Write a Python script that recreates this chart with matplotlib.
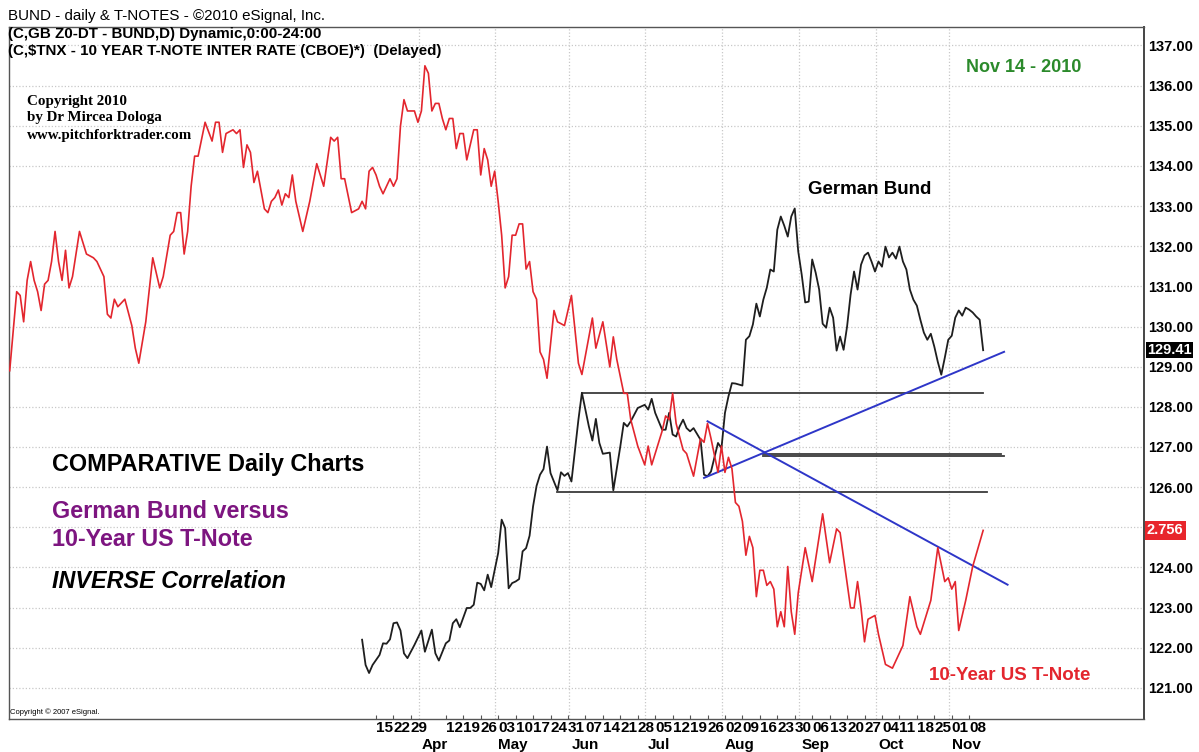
import numpy as np
import matplotlib
matplotlib.use("Agg")
import matplotlib.pyplot as plt
import matplotlib.transforms as mtrans

# ---- data ----
tnote_dates = [
    "2009-10-19", "2009-10-21", "2009-10-22", "2009-10-23", "2009-10-26", "2009-10-27", "2009-10-28",
    "2009-10-29", "2009-10-30", "2009-11-02", "2009-11-03", "2009-11-04", "2009-11-05", "2009-11-06",
    "2009-11-09", "2009-11-10", "2009-11-11", "2009-11-12", "2009-11-16", "2009-11-17", "2009-11-18",
    "2009-11-20", "2009-11-23", "2009-11-24", "2009-11-25", "2009-11-26", "2009-11-27", "2009-11-30",
    "2009-12-01", "2009-12-03", "2009-12-07", "2009-12-08", "2009-12-09", "2009-12-11", "2009-12-15",
    "2009-12-17", "2009-12-18", "2009-12-22", "2009-12-23", "2009-12-24", "2009-12-25", "2009-12-28",
    "2009-12-29", "2009-12-30", "2009-12-31", "2010-01-01", "2010-01-05", "2010-01-07", "2010-01-08",
    "2010-01-11", "2010-01-12", "2010-01-13", "2010-01-15", "2010-01-18", "2010-01-19", "2010-01-20",
    "2010-01-21", "2010-01-22", "2010-01-25", "2010-01-26", "2010-01-27", "2010-01-28", "2010-01-29",
    "2010-02-01", "2010-02-02", "2010-02-03", "2010-02-04", "2010-02-05", "2010-02-08", "2010-02-09",
    "2010-02-10", "2010-02-12", "2010-02-16", "2010-02-18", "2010-02-22", "2010-02-24", "2010-02-25",
    "2010-02-26", "2010-03-01", "2010-03-02", "2010-03-04", "2010-03-08", "2010-03-09", "2010-03-10",
    "2010-03-11", "2010-03-12", "2010-03-15", "2010-03-16", "2010-03-17", "2010-03-18", "2010-03-19",
    "2010-03-22", "2010-03-23", "2010-03-24", "2010-03-25", "2010-03-26", "2010-03-29", "2010-03-30",
    "2010-03-31", "2010-04-01", "2010-04-02", "2010-04-05", "2010-04-06", "2010-04-07", "2010-04-08",
    "2010-04-09", "2010-04-12", "2010-04-13", "2010-04-14", "2010-04-15", "2010-04-16", "2010-04-19",
    "2010-04-20", "2010-04-21", "2010-04-22", "2010-04-23", "2010-04-26", "2010-04-27", "2010-04-28",
    "2010-04-29", "2010-04-30", "2010-05-03", "2010-05-04", "2010-05-05", "2010-05-06", "2010-05-07",
    "2010-05-10", "2010-05-11", "2010-05-12", "2010-05-13", "2010-05-14", "2010-05-17", "2010-05-18",
    "2010-05-19", "2010-05-20", "2010-05-21", "2010-05-25", "2010-05-26", "2010-05-28", "2010-06-01",
    "2010-06-03", "2010-06-04", "2010-06-09", "2010-06-10", "2010-06-14", "2010-06-16", "2010-06-17",
    "2010-06-18", "2010-06-22", "2010-06-23", "2010-06-24", "2010-06-28", "2010-06-30", "2010-07-01",
    "2010-07-02", "2010-07-07", "2010-07-08", "2010-07-09", "2010-07-12", "2010-07-13", "2010-07-15",
    "2010-07-16", "2010-07-20", "2010-07-21", "2010-07-22", "2010-07-23", "2010-07-26", "2010-07-27",
    "2010-07-29", "2010-07-30", "2010-08-02", "2010-08-03", "2010-08-04", "2010-08-05", "2010-08-06",
    "2010-08-09", "2010-08-10", "2010-08-11", "2010-08-12", "2010-08-13", "2010-08-16", "2010-08-17",
    "2010-08-18", "2010-08-19", "2010-08-20", "2010-08-23", "2010-08-24", "2010-08-25", "2010-08-26",
    "2010-08-27", "2010-08-30", "2010-08-31", "2010-09-02", "2010-09-06", "2010-09-09", "2010-09-13",
    "2010-09-15", "2010-09-16", "2010-09-21", "2010-09-22", "2010-09-23", "2010-09-24", "2010-09-27",
    "2010-09-28", "2010-09-30", "2010-10-01", "2010-10-05", "2010-10-07", "2010-10-12", "2010-10-14",
    "2010-10-18", "2010-10-19", "2010-10-21", "2010-10-22", "2010-10-26", "2010-10-28", "2010-10-29",
    "2010-11-01", "2010-11-02", "2010-11-03", "2010-11-05", "2010-11-09", "2010-11-12",
]
tnote_yield = [
    3.18, 3.39, 3.38, 3.31, 3.42, 3.47, 3.42, 3.39, 3.34, 3.41, 3.42, 3.47, 3.55, 3.47,
    3.42, 3.50, 3.40, 3.43, 3.55, 3.52, 3.49, 3.48, 3.47, 3.45, 3.43, 3.33, 3.32, 3.37,
    3.35, 3.37, 3.30, 3.24, 3.20, 3.31, 3.48, 3.40, 3.43, 3.54, 3.55, 3.60, 3.60, 3.49,
    3.55, 3.67, 3.75, 3.75, 3.84, 3.79, 3.84, 3.84, 3.76, 3.81, 3.82, 3.81, 3.82, 3.72,
    3.78, 3.76, 3.68, 3.71, 3.66, 3.61, 3.60, 3.63, 3.64, 3.66, 3.62, 3.65, 3.64, 3.70,
    3.63, 3.55, 3.63, 3.73, 3.67, 3.80, 3.79, 3.80, 3.69, 3.69, 3.60, 3.61, 3.63, 3.61,
    3.71, 3.72, 3.70, 3.67, 3.65, 3.67, 3.69, 3.67, 3.69, 3.83, 3.90, 3.87, 3.87, 3.87,
    3.84, 3.87, 3.99, 3.97, 3.87, 3.89, 3.89, 3.85, 3.82, 3.85, 3.85, 3.77, 3.81, 3.81,
    3.74, 3.78, 3.82, 3.82, 3.70, 3.77, 3.74, 3.67, 3.71, 3.63, 3.54, 3.40, 3.43, 3.54,
    3.54, 3.57, 3.57, 3.45, 3.47, 3.39, 3.37, 3.23, 3.21, 3.16, 3.34, 3.31, 3.30, 3.38,
    3.20, 3.17, 3.32, 3.24, 3.31, 3.19, 3.27, 3.21, 3.12, 3.12, 3.05, 2.98, 2.93, 2.98,
    2.93, 3.02, 3.06, 3.05, 3.12, 3.04, 2.97, 2.96, 2.90, 2.95, 3.00, 2.99, 3.04, 3.00,
    2.91, 2.98, 2.91, 2.95, 2.92, 2.83, 2.82, 2.78, 2.69, 2.74, 2.71, 2.58, 2.65, 2.65,
    2.61, 2.62, 2.60, 2.50, 2.54, 2.50, 2.66, 2.54, 2.48, 2.59, 2.71, 2.62, 2.80, 2.67,
    2.76, 2.75, 2.55, 2.55, 2.62, 2.55, 2.46, 2.52, 2.53, 2.48, 2.40, 2.39, 2.45, 2.58,
    2.50, 2.48, 2.54, 2.57, 2.71, 2.62, 2.63, 2.60, 2.62, 2.49, 2.57, 2.66, 2.756,
]

bund_dates = [
    "2010-03-09", "2010-03-10", "2010-03-11", "2010-03-12", "2010-03-16", "2010-03-17", "2010-03-18",
    "2010-03-19", "2010-03-22", "2010-03-23", "2010-03-24", "2010-03-25", "2010-03-26", "2010-03-30",
    "2010-04-01", "2010-04-02", "2010-04-06", "2010-04-07", "2010-04-08", "2010-04-12", "2010-04-13",
    "2010-04-14", "2010-04-15", "2010-04-16", "2010-04-20", "2010-04-21", "2010-04-22", "2010-04-23",
    "2010-04-26", "2010-04-27", "2010-04-28", "2010-04-29", "2010-05-03", "2010-05-04", "2010-05-05",
    "2010-05-06", "2010-05-07", "2010-05-10", "2010-05-11", "2010-05-12", "2010-05-13", "2010-05-14",
    "2010-05-17", "2010-05-18", "2010-05-19", "2010-05-20", "2010-05-21", "2010-05-24", "2010-05-26",
    "2010-05-27", "2010-05-28", "2010-05-31", "2010-06-01", "2010-06-03", "2010-06-04", "2010-06-08",
    "2010-06-09", "2010-06-10", "2010-06-11", "2010-06-14", "2010-06-16", "2010-06-17", "2010-06-21",
    "2010-06-22", "2010-06-23", "2010-06-24", "2010-06-28", "2010-06-29", "2010-06-30", "2010-07-01",
    "2010-07-02", "2010-07-05", "2010-07-07", "2010-07-08", "2010-07-09", "2010-07-12", "2010-07-13",
    "2010-07-14", "2010-07-15", "2010-07-16", "2010-07-19", "2010-07-20", "2010-07-22", "2010-07-23",
    "2010-07-26", "2010-07-27", "2010-07-29", "2010-07-30", "2010-08-02", "2010-08-03", "2010-08-04",
    "2010-08-05", "2010-08-09", "2010-08-10", "2010-08-11", "2010-08-12", "2010-08-13", "2010-08-16",
    "2010-08-17", "2010-08-18", "2010-08-19", "2010-08-20", "2010-08-23", "2010-08-24", "2010-08-25",
    "2010-08-26", "2010-08-27", "2010-08-30", "2010-08-31", "2010-09-01", "2010-09-02", "2010-09-03",
    "2010-09-06", "2010-09-07", "2010-09-08", "2010-09-09", "2010-09-10", "2010-09-13", "2010-09-14",
    "2010-09-15", "2010-09-16", "2010-09-17", "2010-09-20", "2010-09-21", "2010-09-22", "2010-09-23",
    "2010-09-24", "2010-09-27", "2010-09-28", "2010-09-29", "2010-09-30", "2010-10-01", "2010-10-04",
    "2010-10-05", "2010-10-06", "2010-10-07", "2010-10-08", "2010-10-11", "2010-10-12", "2010-10-13",
    "2010-10-14", "2010-10-15", "2010-10-18", "2010-10-19", "2010-10-20", "2010-10-21", "2010-10-22",
    "2010-10-25", "2010-10-26", "2010-10-27", "2010-10-28", "2010-10-29", "2010-11-01", "2010-11-02",
    "2010-11-03", "2010-11-04", "2010-11-05", "2010-11-08", "2010-11-09", "2010-11-10", "2010-11-11",
    "2010-11-12",
]
bund_price = [
    122.20, 121.57, 121.37, 121.57, 121.82, 122.11, 122.10, 122.21, 122.61, 122.63, 122.43,
    121.86, 121.74, 122.07, 122.43, 121.90, 122.45, 121.86, 121.68, 122.11, 122.18, 122.61,
    122.71, 122.51, 122.99, 122.99, 123.07, 123.62, 123.59, 123.43, 123.82, 123.51, 124.36,
    125.19, 124.98, 123.48, 123.61, 123.65, 123.71, 124.40, 124.48, 124.79, 125.52, 126.03,
    126.31, 126.45, 127.01, 126.35, 125.92, 126.37, 126.28, 126.35, 126.14, 127.68, 128.35,
    127.51, 127.16, 127.70, 127.10, 126.83, 126.86, 125.92, 127.01, 127.60, 127.51, 127.64,
    127.97, 128.01, 128.05, 127.93, 128.20, 127.85, 127.43, 127.43, 127.85, 127.31, 127.26,
    127.51, 127.68, 127.47, 127.39, 127.47, 127.18, 126.31, 126.27, 126.39, 127.10, 126.97,
    127.85, 128.26, 128.59, 128.58, 128.53, 129.67, 129.76, 130.05, 130.57, 130.25, 130.67,
    130.97, 131.42, 131.37, 132.41, 132.74, 132.51, 132.24, 132.74, 132.94, 131.87, 131.29,
    130.60, 130.62, 131.67, 131.34, 130.92, 130.07, 129.97, 130.47, 130.22, 129.40, 129.75,
    129.42, 130.00, 130.79, 131.37, 130.92, 131.54, 131.77, 131.84, 131.62, 131.37, 131.62,
    131.49, 131.99, 131.72, 131.84, 131.69, 131.99, 131.62, 131.42, 130.92, 130.67, 130.52,
    130.17, 129.85, 129.67, 129.82, 129.50, 129.12, 128.80, 129.22, 129.67, 129.77, 130.22,
    130.40, 130.27, 130.47, 130.42, 130.35, 130.25, 130.17, 129.41,
]

# author's horizontal support / resistance lines (price, from, to)
hline_price = [128.35, 126.83, 126.77, 125.89]
hline_from = ["2010-06-04", "2010-08-17", "2010-08-17", "2010-05-26"]
hline_to = ["2010-11-12", "2010-11-19", "2010-11-22", "2010-11-15"]

# blue trend lines (from date, from price, to date, to price)
trend_from = ["2010-07-23", "2010-07-26"]
trend_from_price = [126.23, 127.64]
trend_to = ["2010-11-22", "2010-11-23"]
trend_to_price = [129.37, 123.57]

week_dates = [
    "2010-03-15", "2010-03-22", "2010-03-29", "2010-04-12", "2010-04-19", "2010-04-26",
    "2010-05-03", "2010-05-10", "2010-05-17", "2010-05-24", "2010-05-31", "2010-06-07",
    "2010-06-14", "2010-06-21", "2010-06-28", "2010-07-05", "2010-07-12", "2010-07-19",
    "2010-07-26", "2010-08-02", "2010-08-09", "2010-08-16", "2010-08-23", "2010-08-30",
    "2010-09-06", "2010-09-13", "2010-09-20", "2010-09-27", "2010-10-04", "2010-10-11",
    "2010-10-18", "2010-10-25", "2010-11-01", "2010-11-08",
]
month_dates = ["2010-04-01", "2010-05-03", "2010-06-01", "2010-07-01",
               "2010-08-02", "2010-09-01", "2010-10-01", "2010-11-01"]
month_names = ["Apr", "May", "Jun", "Jul", "Aug", "Sep", "Oct", "Nov"]
price_ticks = list(range(121, 138))

origin = np.datetime64("2010-03-15")


def bar(dates):
    # eSignal spaces bars by trading day
    return np.busday_count(origin, np.array(dates, dtype="datetime64[D]"))


W, H = 1199, 752
plt.rcParams["font.family"] = ["Liberation Sans", "DejaVu Sans"]
fig = plt.figure(figsize=(W / 100, H / 100), dpi=100)
fig.patch.set_facecolor("white")

ax = fig.add_axes([9 / W, 1 - 719 / H, (1144 - 9) / W, (719 - 27) / H])
ax.set_xlim(-105.2, 220.1)
ax.set_ylim(120.225, 137.46)

# grid
for p in price_ticks:
    ax.axhline(p, color="#c8c8c8", lw=0.9, ls=(0, (1, 1.6)), zorder=0)
for m in bar(month_dates):
    ax.axvline(m - 0.8, color="#c8c8c8", lw=0.9, ls=(0, (1, 1.6)), zorder=0)

# series
ax.plot(bar(bund_dates), bund_price, color="#1e1e1e", lw=1.3, zorder=3)

for lv, a, b in zip(hline_price, hline_from, hline_to):
    ax.plot([bar(a), bar(b)], [lv, lv], color="#3a3a3a", lw=1.3, zorder=2)
for a, pa, b, pb in zip(trend_from, trend_from_price, trend_to, trend_to_price):
    ax.plot([bar(a), bar(b)], [pa, pb], color="#2e36c8", lw=1.4, zorder=4)

ax2 = ax.twinx()
ax2.set_ylim(2.255, 4.093)
ax2.plot(bar(tnote_dates), tnote_yield, color="#e3262e", lw=1.2, zorder=3)
ax2.set_yticks([])
for s in ax2.spines.values():
    s.set_visible(False)

# axes styling
for s in ax.spines.values():
    s.set_color("#555555")
    s.set_linewidth(1.0)
ax.spines["right"].set_color("#444444")
ax.spines["right"].set_linewidth(1.4)
ax.yaxis.tick_right()
ax.set_yticks(price_ticks)
# 125.00 sits under the T-Note value tag, so it is left blank
ax.set_yticklabels(["" if p == 125 else "%.2f" % p for p in price_ticks],
                   fontsize=10.5, fontweight="bold")
ax.tick_params(axis="y", length=0, pad=3)
ax.set_xticks(bar(week_dates))
ax.set_xticklabels([])
ax.tick_params(axis="x", direction="in", length=3, color="#555555")

tr = mtrans.blended_transform_factory(ax.transData, ax.transAxes)
for d in week_dates:
    ax.text(bar(d), -9 / 692, d[-2:], transform=tr, ha="left", va="center",
            fontsize=11, fontweight="bold", clip_on=False)
for d, name in zip(month_dates, month_names):
    ax.text(bar(d), -26 / 692, name, transform=tr, ha="left", va="center",
            fontsize=11, fontweight="bold", clip_on=False)

# last value tags on the price scale
ax.annotate("129.41", xy=(1, bund_price[-1]), xycoords=("axes fraction", "data"),
            xytext=(2, 0), textcoords="offset points", ha="left", va="center",
            fontsize=10.5, fontweight="bold", color="white",
            bbox=dict(boxstyle="square,pad=0.08", fc="black", ec="none"))
ax2.annotate("2.756", xy=(1, tnote_yield[-1]), xycoords=("axes fraction", "data"),
             xytext=(2, 0), textcoords="offset points", ha="left", va="center",
             fontsize=10.5, fontweight="bold", color="white",
             bbox=dict(boxstyle="square,pad=0.15", fc="#e8262c", ec="none"))


def ftext(x, y, s, **kw):
    fig.text(x / W, 1 - y / H, s, va="center", **kw)


ftext(8, 16, "BUND - daily & T-NOTES - ©2010 eSignal, Inc.", fontsize=10.9)
ftext(8, 34, "(C,GB Z0-DT - BUND,D) Dynamic,0:00-24:00", fontsize=10.9, fontweight="bold")
ftext(8, 51, "(C,$TNX - 10 YEAR T-NOTE INTER RATE (CBOE)*)  (Delayed)", fontsize=10.9, fontweight="bold")

serif = ["Liberation Serif", "DejaVu Serif"]
ftext(27, 101, "Copyright 2010", fontsize=10.8, fontweight="bold", family=serif)
ftext(27, 118, "by Dr Mircea Dologa", fontsize=10.8, fontweight="bold", family=serif)
ftext(27, 135, "www.pitchforktrader.com", fontsize=10.8, fontweight="bold", family=serif)

ftext(1024, 68, "Nov 14 - 2010", fontsize=13, fontweight="bold", color="#2b8a2b", ha="center")
ftext(870, 190, "German Bund", fontsize=13.5, fontweight="bold", ha="center")
ftext(52, 464, "COMPARATIVE Daily Charts", fontsize=16.8, fontweight="bold")
ftext(52, 511, "German Bund versus", fontsize=16.8, fontweight="bold", color="#7d1580")
ftext(52, 540, "10-Year US T-Note", fontsize=16.8, fontweight="bold", color="#7d1580")
ftext(52, 582, "INVERSE Correlation", fontsize=16.8, fontweight="bold", style="italic")
ftext(1010, 675, "10-Year US T-Note", fontsize=13.5, fontweight="bold", color="#e3262e", ha="center")
ftext(10, 712, "Copyright © 2007 eSignal.", fontsize=5.5)

fig.savefig("out.png", dpi=100)
